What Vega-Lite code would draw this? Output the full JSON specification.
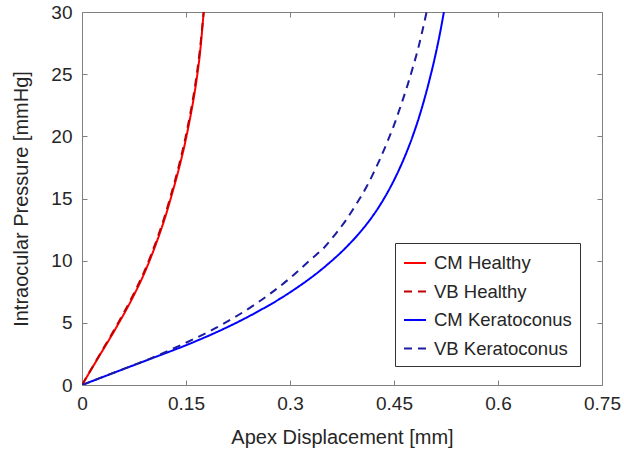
{
  "$schema": "https://vega.github.io/schema/vega-lite/v6.json",
  "width": 520,
  "height": 373,
  "autosize": {"type": "none"},
  "padding": {"left": 82, "top": 12, "right": 22, "bottom": 71},
  "background": "white",
  "config": {
    "view": {"stroke": null},
    "font": "Liberation Sans",
    "axis": {
      "grid": false,
      "domainColor": "#808080",
      "tickColor": "#808080",
      "labelColor": "#262626",
      "titleColor": "#262626",
      "labelFont": "Liberation Sans",
      "titleFont": "Liberation Sans",
      "labelFontSize": 19,
      "titleFontSize": 20,
      "titleFontWeight": "normal",
      "tickSize": -5
    }
  },
  "data": {
    "values": [
      {"series": "CM Healthy", "x": 0, "p": 0},
      {"series": "CM Healthy", "x": 0.025, "p": 2.34},
      {"series": "CM Healthy", "x": 0.05, "p": 4.68},
      {"series": "CM Healthy", "x": 0.075, "p": 7.24},
      {"series": "CM Healthy", "x": 0.09, "p": 9.0},
      {"series": "CM Healthy", "x": 0.1, "p": 10.36},
      {"series": "CM Healthy", "x": 0.11, "p": 11.85},
      {"series": "CM Healthy", "x": 0.12, "p": 13.5},
      {"series": "CM Healthy", "x": 0.13, "p": 15.4},
      {"series": "CM Healthy", "x": 0.14, "p": 17.45},
      {"series": "CM Healthy", "x": 0.148, "p": 19.3},
      {"series": "CM Healthy", "x": 0.155, "p": 21.2},
      {"series": "CM Healthy", "x": 0.16, "p": 22.7},
      {"series": "CM Healthy", "x": 0.165, "p": 24.45},
      {"series": "CM Healthy", "x": 0.17, "p": 26.6},
      {"series": "CM Healthy", "x": 0.1755, "p": 30},
      {"series": "VB Healthy", "x": 0, "p": 0},
      {"series": "VB Healthy", "x": 0.025, "p": 2.4},
      {"series": "VB Healthy", "x": 0.05, "p": 4.78},
      {"series": "VB Healthy", "x": 0.075, "p": 7.38},
      {"series": "VB Healthy", "x": 0.09, "p": 9.15},
      {"series": "VB Healthy", "x": 0.1, "p": 10.52},
      {"series": "VB Healthy", "x": 0.11, "p": 12.03},
      {"series": "VB Healthy", "x": 0.12, "p": 13.7},
      {"series": "VB Healthy", "x": 0.13, "p": 15.62},
      {"series": "VB Healthy", "x": 0.14, "p": 17.7},
      {"series": "VB Healthy", "x": 0.148, "p": 19.58},
      {"series": "VB Healthy", "x": 0.155, "p": 21.5},
      {"series": "VB Healthy", "x": 0.16, "p": 23.0},
      {"series": "VB Healthy", "x": 0.165, "p": 24.8},
      {"series": "VB Healthy", "x": 0.17, "p": 26.95},
      {"series": "VB Healthy", "x": 0.1755, "p": 30},
      {"series": "CM Keratoconus", "x": 0, "p": 0},
      {"series": "CM Keratoconus", "x": 0.05, "p": 1.07},
      {"series": "CM Keratoconus", "x": 0.1, "p": 2.13},
      {"series": "CM Keratoconus", "x": 0.15, "p": 3.2},
      {"series": "CM Keratoconus", "x": 0.2, "p": 4.4},
      {"series": "CM Keratoconus", "x": 0.25, "p": 5.8},
      {"series": "CM Keratoconus", "x": 0.3, "p": 7.45},
      {"series": "CM Keratoconus", "x": 0.35, "p": 9.5},
      {"series": "CM Keratoconus", "x": 0.38, "p": 11.02},
      {"series": "CM Keratoconus", "x": 0.4, "p": 12.22},
      {"series": "CM Keratoconus", "x": 0.415, "p": 13.26},
      {"series": "CM Keratoconus", "x": 0.43, "p": 14.48},
      {"series": "CM Keratoconus", "x": 0.44, "p": 15.42},
      {"series": "CM Keratoconus", "x": 0.45, "p": 16.47},
      {"series": "CM Keratoconus", "x": 0.46, "p": 17.65},
      {"series": "CM Keratoconus", "x": 0.47, "p": 18.98},
      {"series": "CM Keratoconus", "x": 0.48, "p": 20.5},
      {"series": "CM Keratoconus", "x": 0.49, "p": 22.25},
      {"series": "CM Keratoconus", "x": 0.5, "p": 24.28},
      {"series": "CM Keratoconus", "x": 0.51, "p": 26.6},
      {"series": "CM Keratoconus", "x": 0.516, "p": 28.2},
      {"series": "CM Keratoconus", "x": 0.522, "p": 30},
      {"series": "VB Keratoconus", "x": 0, "p": 0},
      {"series": "VB Keratoconus", "x": 0.05, "p": 1.08},
      {"series": "VB Keratoconus", "x": 0.1, "p": 2.16},
      {"series": "VB Keratoconus", "x": 0.15, "p": 3.4},
      {"series": "VB Keratoconus", "x": 0.2, "p": 4.8},
      {"series": "VB Keratoconus", "x": 0.25, "p": 6.5},
      {"series": "VB Keratoconus", "x": 0.3, "p": 8.6},
      {"series": "VB Keratoconus", "x": 0.33, "p": 10.1},
      {"series": "VB Keratoconus", "x": 0.35, "p": 11.1},
      {"series": "VB Keratoconus", "x": 0.365, "p": 12.1},
      {"series": "VB Keratoconus", "x": 0.38, "p": 13.2},
      {"series": "VB Keratoconus", "x": 0.395, "p": 14.5},
      {"series": "VB Keratoconus", "x": 0.41, "p": 15.9},
      {"series": "VB Keratoconus", "x": 0.42, "p": 17.0},
      {"series": "VB Keratoconus", "x": 0.43, "p": 18.2},
      {"series": "VB Keratoconus", "x": 0.44, "p": 19.5},
      {"series": "VB Keratoconus", "x": 0.45, "p": 20.9},
      {"series": "VB Keratoconus", "x": 0.46, "p": 22.5},
      {"series": "VB Keratoconus", "x": 0.47, "p": 24.2},
      {"series": "VB Keratoconus", "x": 0.478, "p": 25.7},
      {"series": "VB Keratoconus", "x": 0.485, "p": 27.1},
      {"series": "VB Keratoconus", "x": 0.491, "p": 28.5},
      {"series": "VB Keratoconus", "x": 0.497, "p": 30}
    ]
  },
  "layer": [
    {
      "mark": {"type": "line", "strokeWidth": 2, "interpolate": "monotone", "clip": true},
      "encoding": {
        "x": {
          "field": "x", "type": "quantitative",
          "scale": {"domain": [0, 0.75], "nice": false, "zero": false},
          "axis": {"orient": "bottom", "title": "Apex Displacement [mm]", "values": [0, 0.15, 0.3, 0.45, 0.6, 0.75], "labelExpr": "'' + datum.value", "labelPadding": 14, "titlePadding": 14, "labelFlush": false}
        },
        "y": {
          "field": "p", "type": "quantitative",
          "scale": {"domain": [0, 30], "nice": false},
          "axis": {"orient": "left", "title": "Intraocular Pressure [mmHg]", "values": [0, 5, 10, 15, 20, 25, 30], "labelPadding": 15, "titlePadding": 19, "labelFlush": false}
        },
        "color": {
          "field": "series", "type": "nominal",
          "scale": {"domain": ["CM Healthy", "VB Healthy", "CM Keratoconus", "VB Keratoconus"], "range": ["#ff0000", "#c00000", "#0000ff", "#1c1ca0"]},
          "legend": {"orient": "none", "legendX": 313, "legendY": 231, "title": null, "symbolType": "stroke", "symbolSize": 484, "symbolStrokeWidth": 2, "labelFontSize": 18.5, "labelColor": "#262626", "labelFont": "Liberation Sans", "padding": 8, "strokeColor": "#333333", "fillColor": "white", "rowPadding": 6.5, "labelOffset": 7, "cornerRadius": 0, "labelLimit": 300}
        },
        "strokeDash": {
          "field": "series", "type": "nominal",
          "scale": {"domain": ["CM Healthy", "VB Healthy", "CM Keratoconus", "VB Keratoconus"], "range": [[1, 0], [8, 6], [1, 0], [8, 6]]},
          "legend": {"orient": "none", "legendX": 313, "legendY": 231, "title": null, "symbolType": "stroke", "symbolSize": 484, "symbolStrokeWidth": 2, "labelFontSize": 18.5, "labelColor": "#262626", "labelFont": "Liberation Sans", "padding": 8, "strokeColor": "#333333", "fillColor": "white", "rowPadding": 6.5, "labelOffset": 7, "cornerRadius": 0, "labelLimit": 300}
        }
      }
    },
    {
      "mark": {"type": "line", "opacity": 0},
      "encoding": {
        "x": {"field": "x", "type": "quantitative", "axis": {"orient": "top", "labels": false, "title": null, "values": [0, 0.15, 0.3, 0.45, 0.6, 0.75]}},
        "y": {"field": "p", "type": "quantitative", "axis": {"orient": "right", "labels": false, "title": null, "values": [0, 5, 10, 15, 20, 25, 30]}},
        "detail": {"field": "series"}
      }
    }
  ],
  "resolve": {"axis": {"x": "independent", "y": "independent"}}
}
